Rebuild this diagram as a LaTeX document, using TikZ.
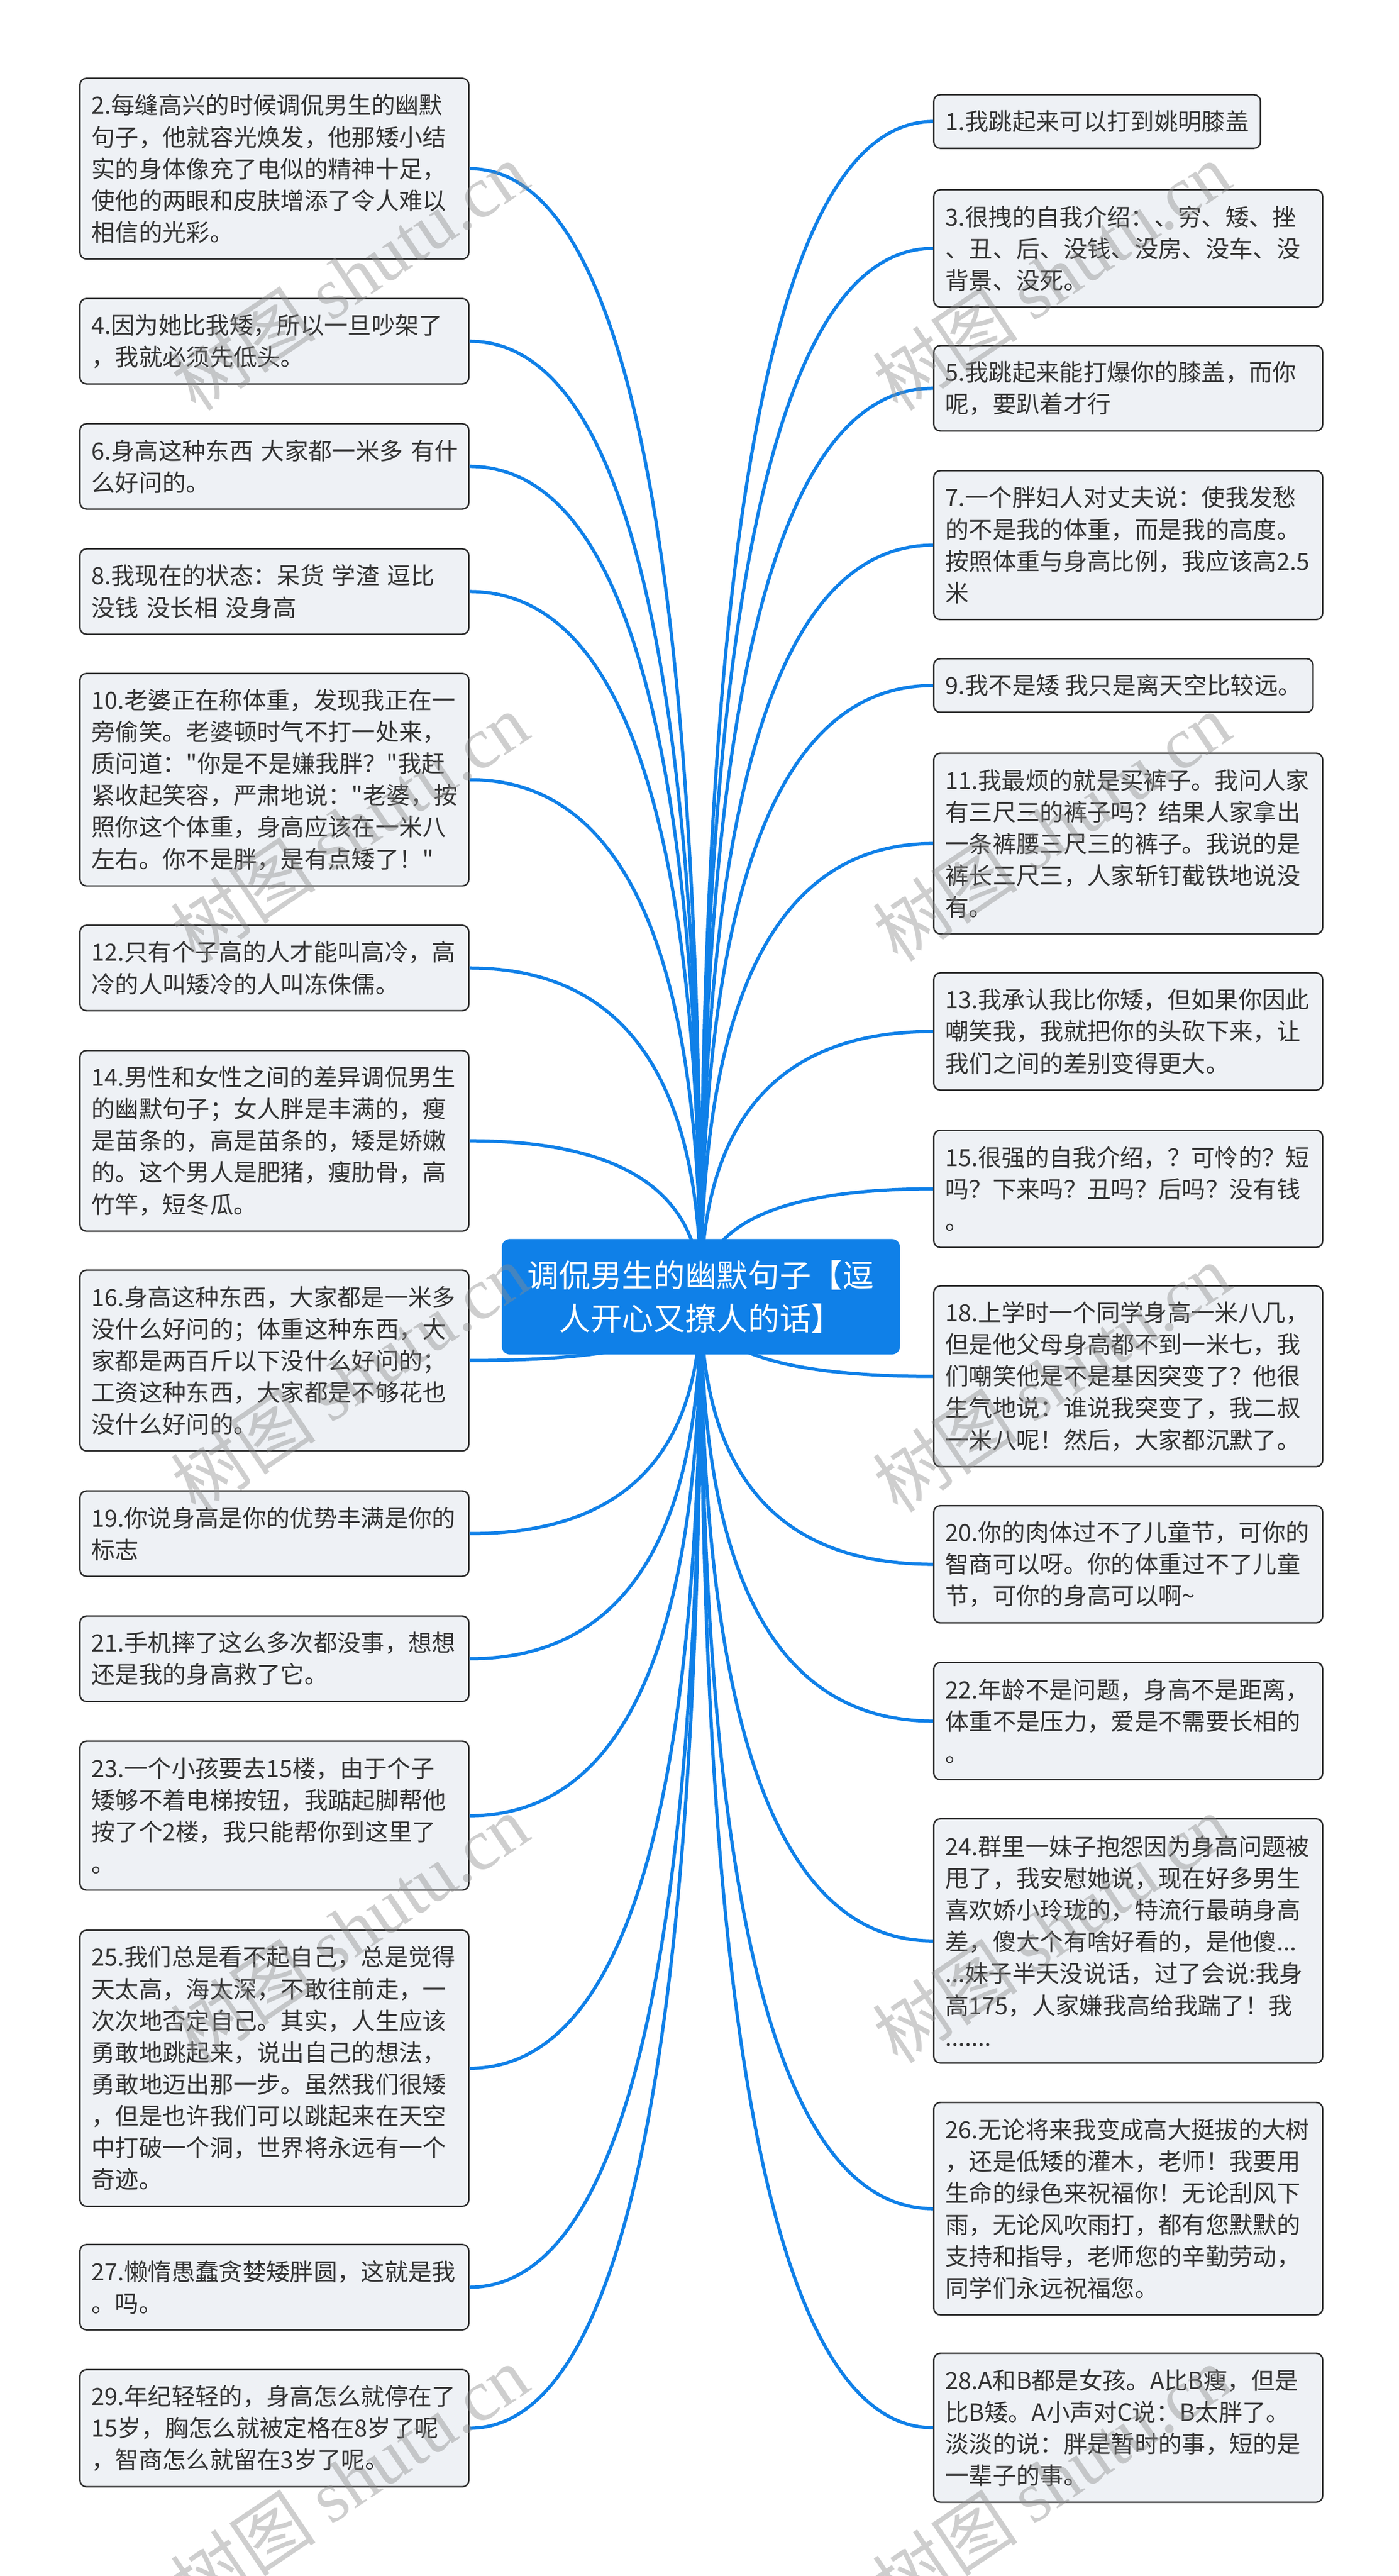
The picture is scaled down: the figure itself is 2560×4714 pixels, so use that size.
\documentclass[tikz,border=0pt]{standalone}
\usepackage{fontspec}
\setmainfont{Noto Sans CJK SC}[Ligatures=TeXOff]
\newfontfamily\markcjk{Noto Sans CJK SC}
\newfontfamily\markserif{Liberation Serif}
\usetikzlibrary{calc}
\definecolor{hubblue}{HTML}{0F80E8}
\definecolor{leafgray}{HTML}{EEF1F5}
\definecolor{leafline}{HTML}{2B2B2B}
\definecolor{leaftext}{HTML}{333333}
\definecolor{markgray}{HTML}{8C8C8C}
\tikzset{
  leafbase/.style={draw=leafline, line width=0.8pt, fill=leafgray, rounded corners=3.6pt,
    text=leaftext, anchor=north west, inner xsep=6.3pt, inner ysep=6pt,
    font=\fontsize{13pt}{17.44pt}\selectfont},
  leaf/.style={leafbase, text width=201pt, align=left},
  leafone/.style={leafbase},
  nlines/.style={minimum height=#1*17.44pt+12pt},
  link/.style={draw=hubblue, line width=1.8pt},
  rootbox/.style={fill=hubblue, text=white, rounded corners=4.5pt, minimum width=218.7pt,
    minimum height=63.4pt, align=center, font=\fontsize{17.3pt}{23.5pt}\selectfont},
  wmark/.style={text=markgray, opacity=0.42, rotate=34, font=\fontsize{40pt}{40pt}\selectfont}
}
\begin{document}
\begin{tikzpicture}[x=0.3pt, y=-0.3pt]
\fill[white] (0,0) rectangle (2560,4714);
\useasboundingbox (0,0) rectangle (2560,4714);
% left column
\node[leaf, nlines=5] (b2) at (145,142) {2.每缝高兴的时候调侃男生的幽默\\句子，他就容光焕发，他那矮小结\\实的身体像充了电似的精神十足，\\使他的两眼和皮肤增添了令人难以\\相信的光彩。};
\node[leaf, nlines=2] (b4) at (145,545) {4.因为她比我矮，所以一旦吵架了\\，我就必须先低头。};
\node[leaf, nlines=2] (b6) at (145,774) {6.身高这种东西~大家都一米多~有什\\么好问的。};
\node[leaf, nlines=2] (b8) at (145,1003) {8.我现在的状态：呆货~学渣~逗比\\没钱~没长相~没身高};
\node[leaf, nlines=6] (b10) at (145,1231) {10.老婆正在称体重，发现我正在一\\旁偷笑。老婆顿时气不打一处来，\\质问道：\char"22 你是不是嫌我胖？\char"22 我赶\\紧收起笑容，严肃地说：\char"22 老婆，按\\照你这个体重，身高应该在一米八\\左右。你不是胖，是有点矮了！\char"22};
\node[leaf, nlines=2] (b12) at (145,1692) {12.只有个子高的人才能叫高冷，高\\冷的人叫矮冷的人叫冻侏儒。};
\node[leaf, nlines=5] (b14) at (145,1921) {14.男性和女性之间的差异调侃男生\\的幽默句子；女人胖是丰满的，瘦\\是苗条的，高是苗条的，矮是娇嫩\\的。这个男人是肥猪，瘦肋骨，高\\竹竿，短冬瓜。};
\node[leaf, nlines=5] (b16) at (145,2323) {16.身高这种东西，大家都是一米多\\没什么好问的；体重这种东西，大\\家都是两百斤以下没什么好问的；\\工资这种东西，大家都是不够花也\\没什么好问的。};
\node[leaf, nlines=2] (b19) at (145,2727) {19.你说身高是你的优势丰满是你的\\标志};
\node[leaf, nlines=2] (b21) at (145,2956) {21.手机摔了这么多次都没事，想想\\还是我的身高救了它。};
\node[leaf, nlines=4] (b23) at (145,3185) {23.一个小孩要去15楼，由于个子\\矮够不着电梯按钮，我踮起脚帮他\\按了个2楼，我只能帮你到这里了\\。};
\node[leaf, nlines=8] (b25) at (145,3531) {25.我们总是看不起自己，总是觉得\\天太高，海太深，不敢往前走，一\\次次地否定自己。其实，人生应该\\勇敢地跳起来，说出自己的想法，\\勇敢地迈出那一步。虽然我们很矮\\，但是也许我们可以跳起来在天空\\中打破一个洞，世界将永远有一个\\奇迹。};
\node[leaf, nlines=2] (b27) at (145,4106) {27.懒惰愚蠢贪婪矮胖圆，这就是我\\。吗。};
\node[leaf, nlines=3] (b29) at (145,4335) {29.年纪轻轻的，身高怎么就停在了\\15岁，胸怎么就被定格在8岁了呢\\，智商怎么就留在3岁了呢。};
% right column
\node[leafone, nlines=1] (b1) at (1708,172) {1.我跳起来可以打到姚明膝盖};
\node[leaf, nlines=3] (b3) at (1708,346) {3.很拽的自我介绍：、穷、矮、挫\\、丑、后、没钱、没房、没车、没\\背景、没死。};
\node[leaf, nlines=2] (b5) at (1708,631) {5.我跳起来能打爆你的膝盖，而你\\呢，要趴着才行};
\node[leaf, nlines=4] (b7) at (1708,860) {7.一个胖妇人对丈夫说：使我发愁\\的不是我的体重，而是我的高度。\\按照体重与身高比例，我应该高2.5\\米};
\node[leafone, nlines=1] (b9) at (1708,1204) {9.我不是矮~我只是离天空比较远。};
\node[leaf, nlines=5] (b11) at (1708,1377) {11.我最烦的就是买裤子。我问人家\\有三尺三的裤子吗？结果人家拿出\\一条裤腰三尺三的裤子。我说的是\\裤长三尺三，人家斩钉截铁地说没\\有。};
\node[leaf, nlines=3] (b13) at (1708,1779) {13.我承认我比你矮，但如果你因此\\嘲笑我，我就把你的头砍下来，让\\我们之间的差别变得更大。};
\node[leaf, nlines=3] (b15) at (1708,2067) {15.很强的自我介绍，？可怜的？短\\吗？下来吗？丑吗？后吗？没有钱\\。};
\node[leaf, nlines=5] (b18) at (1708,2352) {18.上学时一个同学身高一米八几，\\但是他父母身高都不到一米七，我\\们嘲笑他是不是基因突变了？他很\\生气地说：谁说我突变了，我二叔\\一米八呢！然后，大家都沉默了。};
\node[leaf, nlines=3] (b20) at (1708,2754) {20.你的肉体过不了儿童节，可你的\\智商可以呀。你的体重过不了儿童\\节，可你的身高可以啊\textasciitilde};
\node[leaf, nlines=3] (b22) at (1708,3041) {22.年龄不是问题，身高不是距离，\\体重不是压力，爱是不需要长相的\\。};
\node[leaf, nlines=7] (b24) at (1708,3327) {24.群里一妹子抱怨因为身高问题被\\甩了，我安慰她说，现在好多男生\\喜欢娇小玲珑的，特流行最萌身高\\差，傻大个有啥好看的，是他傻...\\...妹子半天没说话，过了会说:我身\\高175，人家嫌我高给我踹了！我\\.......};
\node[leaf, nlines=6] (b26) at (1708,3846) {26.无论将来我变成高大挺拔的大树\\，还是低矮的灌木，老师！我要用\\生命的绿色来祝福你！无论刮风下\\雨，无论风吹雨打，都有您默默的\\支持和指导，老师您的辛勤劳动，\\同学们永远祝福您。};
\node[leaf, nlines=4] (b28) at (1708,4305) {28.A和B都是女孩。A比B瘦，但是\\比B矮。A小声对C说：B太胖了。\\淡淡的说：胖是暂时的事，短的是\\一辈子的事。};
% connectors
\coordinate (core) at (1283,2373);
\foreach \b in {b2,b4,b6,b8,b10,b12,b14,b16,b19,b21,b23,b25,b27,b29} {
  \coordinate (k) at (core |- \b.east);
  \draw[link] (\b.east) .. controls ($(\b.east)!0.667!(k)$) and ($(core)!0.667!(k)$) .. (core);
}
\foreach \b in {b1,b3,b5,b7,b9,b11,b13,b15,b18,b20,b22,b24,b26,b28} {
  \coordinate (k) at (core |- \b.west);
  \draw[link] (\b.west) .. controls ($(\b.west)!0.667!(k)$) and ($(core)!0.667!(k)$) .. (core);
}
% center
\node[rootbox] (root) at (core) {调侃男生的幽默句子【逗\\人开心又撩人的话】};
% watermark
\foreach \x/\y [count=\i] in {640/505,1925/505,640/1513,1925/1513,640/2521,1925/2521,640/3529,1925/3529,640/4537,1925/4537}
  \node[wmark] (w\i) at (\x,\y) {{\markcjk 树图} {\markserif shutu.cn}};
\end{tikzpicture}
\end{document}
